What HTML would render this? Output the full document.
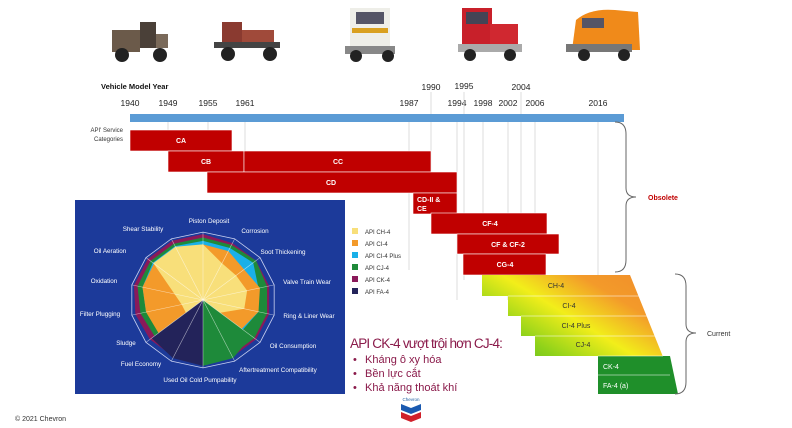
<!DOCTYPE html>
<html><head><meta charset="utf-8"><style>
body{margin:0;background:#fff;width:792px;height:428px;overflow:hidden}
svg{display:block}
text{font-family:"Liberation Sans","Noto Sans CJK SC",sans-serif}
</style></head><body>
<svg id="s" width="792" height="428" viewBox="0 0 792 428" xmlns="http://www.w3.org/2000/svg">
<defs>
<linearGradient id="g" x1="0" y1="1" x2="1" y2="0" gradientUnits="objectBoundingBox">
<stop offset="0" stop-color="#1f9a2a"/><stop offset="0.35" stop-color="#8fd21a"/><stop offset="0.55" stop-color="#f2ee1a"/><stop offset="0.75" stop-color="#f39a2a"/><stop offset="1" stop-color="#f08a2a"/></linearGradient>
<linearGradient id="gg" x1="0" y1="0" x2="1" y2="0"><stop offset="0" stop-color="#1e8a2a"/><stop offset="1" stop-color="#2aa03a"/></linearGradient>
</defs>
<g>
<rect x="112" y="30" width="28" height="22" fill="#6b5a4a"/><rect x="140" y="22" width="16" height="26" fill="#4a4038"/><rect x="156" y="34" width="12" height="14" fill="#7a6a5a"/>
<circle cx="122" cy="55" r="7" fill="#222"/><circle cx="160" cy="55" r="7" fill="#222"/>
<rect x="222" y="22" width="20" height="22" fill="#8a3a30"/><rect x="242" y="30" width="32" height="18" fill="#a04a3a"/><rect x="214" y="42" width="66" height="6" fill="#444"/>
<circle cx="228" cy="54" r="7" fill="#222"/><circle cx="270" cy="54" r="7" fill="#222"/>
<rect x="350" y="8" width="40" height="40" fill="#eeeee8"/><rect x="352" y="28" width="36" height="5" fill="#d9a020"/><rect x="356" y="12" width="28" height="12" fill="#556"/><rect x="345" y="46" width="50" height="8" fill="#888"/>
<circle cx="356" cy="56" r="6" fill="#222"/><circle cx="388" cy="56" r="6" fill="#222"/>
<rect x="462" y="8" width="30" height="38" fill="#c8202a"/><rect x="490" y="24" width="28" height="22" fill="#d02830"/><rect x="466" y="12" width="22" height="12" fill="#445"/><rect x="458" y="44" width="64" height="8" fill="#aaa"/>
<circle cx="470" cy="55" r="6" fill="#222"/><circle cx="510" cy="55" r="6" fill="#222"/>
<path d="M572 50 L576 20 Q590 8 615 10 L638 12 L640 50 Z" fill="#f08a1a"/><rect x="582" y="18" width="22" height="10" fill="#556"/><rect x="566" y="44" width="66" height="8" fill="#777"/>
<circle cx="584" cy="55" r="6" fill="#222"/><circle cx="624" cy="55" r="6" fill="#222"/>
</g>
<text x="101" y="89" font-size="7.5" font-weight="bold" fill="#111">Vehicle Model Year</text>
<g font-size="8.5" fill="#222" text-anchor="middle">
<text x="130" y="106">1940</text><text x="168" y="106">1949</text><text x="208" y="106">1955</text><text x="245" y="106">1961</text><text x="409" y="106">1987</text><text x="457" y="106">1994</text><text x="483" y="106">1998</text><text x="508" y="106">2002</text><text x="535" y="106">2006</text><text x="598" y="106">2016</text>
<text x="431" y="90">1990</text><text x="464" y="89">1995</text><text x="521" y="90">2004</text>
</g>
<g stroke="#ddd" stroke-width="1">
<line x1="168" y1="122" x2="168" y2="152"/><line x1="208" y1="122" x2="208" y2="173"/><line x1="245" y1="122" x2="245" y2="152"/><line x1="409" y1="122" x2="409" y2="270"/><line x1="431" y1="92" x2="431" y2="213"/><line x1="457" y1="122" x2="457" y2="300"/><line x1="464" y1="92" x2="464" y2="280"/><line x1="483" y1="122" x2="483" y2="275"/><line x1="508" y1="122" x2="508" y2="300"/><line x1="521" y1="92" x2="521" y2="316"/><line x1="535" y1="122" x2="535" y2="336"/><line x1="598" y1="122" x2="598" y2="356"/>
</g>
<rect x="130" y="114" width="494" height="8" fill="#5b9bd5"/>
<text x="123" y="132" font-size="6" fill="#333" text-anchor="end">API' Service</text>
<text x="123" y="141" font-size="6" fill="#333" text-anchor="end">Categories</text>
<g fill="#c00000" stroke="#fff" stroke-width="0.6">
<rect x="130" y="130" width="102" height="21"/><rect x="168" y="151" width="76" height="21"/><rect x="244" y="151" width="187" height="21"/><rect x="207" y="172" width="250" height="21"/><rect x="413" y="193" width="44" height="21"/><rect x="431" y="213" width="116" height="21"/><rect x="457" y="234" width="102" height="20"/><rect x="463" y="254" width="83" height="21"/>
</g>
<g fill="#fff" font-size="7" font-weight="bold" text-anchor="middle">
<text x="181" y="143">CA</text><text x="206" y="164">CB</text><text x="338" y="164">CC</text><text x="331" y="185">CD</text><text x="490" y="226">CF-4</text><text x="508" y="247">CF &amp; CF-2</text><text x="505" y="267">CG-4</text>
<text x="417" y="202" text-anchor="start">CD-II &amp;</text><text x="417" y="211" text-anchor="start">CE</text>
</g>
<path d="M482 275 L630 275 L678 394 L598 394 L598 356 L535 356 L535 336 L521 336 L521 316 L508 316 L508 296 L482 296 Z" fill="url(#g)"/>
<path d="M598 356 L670 356 L678 394 L598 394Z" fill="#1f8f2a"/>
<g stroke="#fff" stroke-width="0.5"><line x1="508" y1="296" x2="639" y2="296"/><line x1="521" y1="316" x2="647" y2="316"/><line x1="535" y1="336" x2="655" y2="336"/><line x1="598" y1="356" x2="663" y2="356"/><line x1="598" y1="375" x2="670" y2="375"/></g>
<g font-size="7" fill="#333" text-anchor="middle"><text x="556" y="288">CH-4</text><text x="569" y="308">CI-4</text><text x="576" y="328">CI-4 Plus</text><text x="583" y="347">CJ-4</text></g>
<g font-size="7" fill="#fff"><text x="603" y="369">CK-4</text><text x="603" y="388">FA-4 (a)</text></g>
<path d="M615 122 Q626 122 626 134 L626 188 Q626 197 636 197 Q626 197 626 206 L626 260 Q626 272 615 272" fill="none" stroke="#666" stroke-width="1"/>
<text x="648" y="200" font-size="7" font-weight="bold" fill="#c00000">Obsolete</text>
<path d="M675 274 Q686 274 686 286 L686 324 Q686 333 696 333 Q686 333 686 342 L686 382 Q686 394 675 394" fill="none" stroke="#666" stroke-width="1"/>
<text x="707" y="336" font-size="7" fill="#333">Current</text>
<rect x="75" y="200" width="270" height="194" fill="#1c3a9a"/>
<g id="radar"></g>
<g font-size="6.3" fill="#fff" text-anchor="middle">
<text x="209" y="223">Piston Deposit</text><text x="255" y="233">Corrosion</text><text x="283" y="254">Soot Thickening</text><text x="307" y="284">Valve Train Wear</text><text x="309" y="318">Ring &amp; Liner Wear</text><text x="293" y="348">Oil Consumption</text><text x="278" y="372">Aftertreatment Compatibility</text><text x="200" y="382">Used Oil Cold Pumpability</text><text x="141" y="366">Fuel Economy</text><text x="126" y="345">Sludge</text><text x="100" y="316">Filter Plugging</text><text x="104" y="283">Oxidation</text><text x="110" y="253">Oil Aeration</text><text x="143" y="231">Shear Stability</text>
</g>
<g font-size="6" fill="#333">
<rect x="352" y="228" width="6" height="6" fill="#f8df7a"/><text x="365" y="234">API CH-4</text>
<rect x="352" y="240" width="6" height="6" fill="#f39a2a"/><text x="365" y="246">API CI-4</text>
<rect x="352" y="252" width="6" height="6" fill="#1ab0e8"/><text x="365" y="258">API CI-4 Plus</text>
<rect x="352" y="264" width="6" height="6" fill="#1e8a3a"/><text x="365" y="270">API CJ-4</text>
<rect x="352" y="276" width="6" height="6" fill="#8a1a5a"/><text x="365" y="282">API CK-4</text>
<rect x="352" y="288" width="6" height="6" fill="#23235a"/><text x="365" y="294">API FA-4</text>
</g>
<g fill="#8a1a4a">
<text x="350" y="348" font-size="13.5" letter-spacing="-0.8">API CK-4 vượt trội hơn CJ-4:</text>
<text x="353" y="363" font-size="11">•</text><text x="365" y="363" font-size="11">Kháng ô xy hóa</text>
<text x="353" y="377" font-size="11">•</text><text x="365" y="377" font-size="11">Bền lực cắt</text>
<text x="353" y="391" font-size="11">•</text><text x="365" y="391" font-size="11">Khả năng thoát khí</text>
</g>
<text x="411" y="401" font-size="4.5" fill="#1a5aa0" text-anchor="middle">Chevron</text>
<path d="M401 404 L411 408 L421 404 L421 410 L411 414 L401 410Z" fill="#1a5ab0"/>
<path d="M401 412 L411 416 L421 412 L421 418 L411 422 L401 418Z" fill="#d0202a"/>
<text x="15" y="421" font-size="7" fill="#333">© 2021 Chevron</text>
</svg>
<script>
(function(){
var cx=203,cy=300,R=73,N=14,g=document.getElementById('radar'),ns='http://www.w3.org/2000/svg';
function pt(i,f){var a=i*2*Math.PI/N;return [cx+R*f*Math.sin(a),cy-R*0.93*f*Math.cos(a)];}
function poly(rs,fill){var p=rs.map(function(f,i){return pt(i,f).join(',')}).join(' ');var e=document.createElementNS(ns,'polygon');e.setAttribute('points',p);e.setAttribute('fill',fill);g.appendChild(e);}
function wedge(list,fill){var p=[[cx,cy]].concat(list.map(function(a){return pt(a[0],a[1])}));var e=document.createElementNS(ns,'polygon');e.setAttribute('points',p.map(function(q){return q.join(',')}).join(' '));e.setAttribute('fill',fill);g.appendChild(e);}
poly([0.97,0.93,0.93,0.93,0.93,0.93,0.93,0.93,0.93,0.93,0.95,0.97,0.97,0.97],'#8a1a5a');
poly([0.92,0.9,0.93,0.9,0.9,0.9,0.9,0.9,0.9,0.85,0.88,0.92,0.92,0.92],'#1e8a3a');
poly([0.87,0.85,0.88,0.78,0.78,0.7,0,0,0,0.7,0.8,0.85,0.88,0.88],'#1ab0e8');
poly([0.82,0.8,0.72,0.8,0.78,0.68,0,0,0,0.78,0.8,0.85,0.86,0.85],'#f39a2a');
poly([0.82,0.6,0.58,0.62,0.58,0.3,0,0,0,0.3,0.3,0.4,0.87,0.87],'#f8df7a');
wedge([[5,0.85],[6,0.95],[7,0.97]],'#1e8a3a');
wedge([[7,0.97],[8,0.95],[9,0.9]],'#23235a');
var outer=[];for(var i=0;i<N;i++)outer.push(pt(i,1).join(','));
var e=document.createElementNS(ns,'polygon');e.setAttribute('points',outer.join(' '));e.setAttribute('fill','none');e.setAttribute('stroke','#c8d0f0');e.setAttribute('stroke-width','0.8');g.appendChild(e);
for(var i=0;i<N;i++){var q=pt(i,1);var l=document.createElementNS(ns,'line');l.setAttribute('x1',cx);l.setAttribute('y1',cy);l.setAttribute('x2',q[0]);l.setAttribute('y2',q[1]);l.setAttribute('stroke','#ffffff');l.setAttribute('stroke-opacity','0.6');l.setAttribute('stroke-width','0.6');g.appendChild(l);}
})();
</script>
</body></html>
